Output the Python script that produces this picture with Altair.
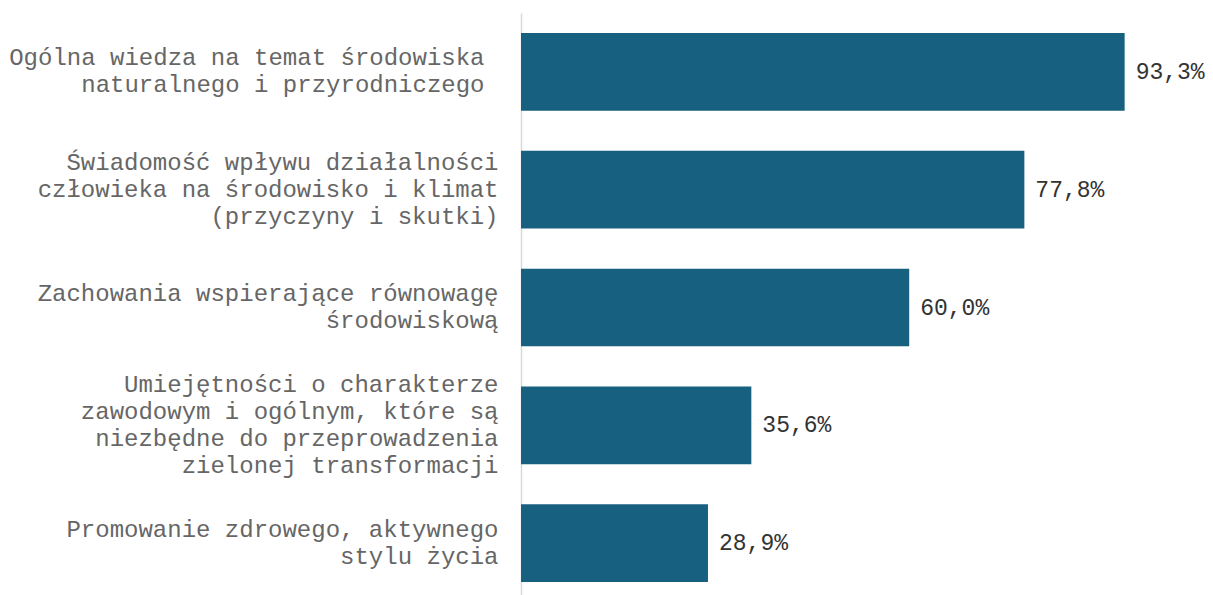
import altair as alt
import pandas as pd

categories = [
    "Ogólna wiedza na temat środowiska|naturalnego i przyrodniczego",
    "Świadomość wpływu działalności|człowieka na środowisko i klimat|(przyczyny i skutki)",
    "Zachowania wspierające równowagę|środowiskową",
    "Umiejętności o charakterze|zawodowym i ogólnym, które są|niezbędne do przeprowadzenia|zielonej transformacji",
    "Promowanie zdrowego, aktywnego|stylu życia",
]
values = [93.3, 77.8, 60.0, 35.6, 28.9]

df = pd.DataFrame({
    "cat": categories,
    "val": values,
    "lbl": [f"{v:.1f}".replace(".", ",") + "%" for v in values],
})

FONT = "Liberation Mono"
LH = 27
nlines = "length(split(datum.value, '|'))"

base = alt.Chart(df).encode(
    y=alt.Y(
        "cat:N",
        sort=categories,
        title=None,
        scale=alt.Scale(paddingInner=0.34, paddingOuter=0.17),
        axis=alt.Axis(
            labelExpr="split(datum.label, '|')",
            labelFont=FONT,
            labelFontSize=24,
            labelColor="#666666",
            labelLineHeight=LH,
            labelPadding={
                "condition": {"test": f"datum.value == '{categories[0]}'", "value": 37},
                "value": 23,
            },
            labelOffset={
                "condition": [
                    {"test": f"{nlines} == 2", "value": -LH / 2},
                    {"test": f"{nlines} == 3", "value": -LH},
                    {"test": f"{nlines} == 4", "value": -1.5 * LH},
                ],
                "value": 0,
            },
            labelLimit=0,
            ticks=False,
            domainColor="#d9d9d9",
            domainWidth=1.5,
            labelAlign="right",
            minExtent=512,
            maxExtent=512,
        ),
    ),
    x=alt.X(
        "val:Q",
        scale=alt.Scale(domain=[0, 100]),
        axis=None,
    ),
)

bars = base.mark_bar(color="#176080")
texts = base.mark_text(
    align="left", baseline="middle", dx=11, font=FONT, fontSize=23, color="#333333"
).encode(text="lbl:N")

chart = (
    (bars + texts)
    .properties(width=647, height=589, padding={"left": 0, "top": 5, "right": 0, "bottom": 5})
    .configure_view(stroke=None)
)

chart.save("out.html", embed_options={"renderer": "svg", "actions": False})
